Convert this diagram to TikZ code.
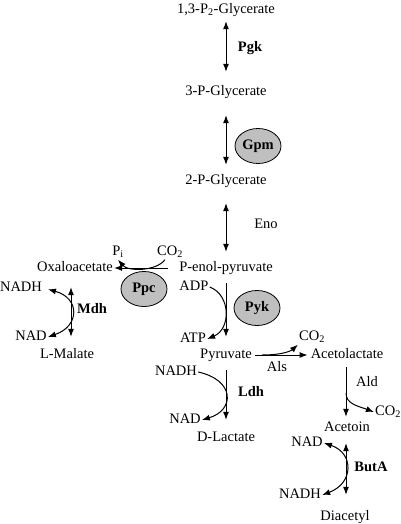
\documentclass[tikz,border=0pt]{standalone}
\usepackage{fontspec}
\setmainfont{Liberation Serif}
\usetikzlibrary{shapes.geometric,arrows.meta}
\tikzset{
  met/.style = {inner sep=1pt, text height=10pt, text depth=3pt},
  lab/.style = {met, font=\fontsize{14.5}{17}\selectfont\bfseries},
  enz/.style = {draw=black, fill=gray!50, thick, ellipse, minimum height=35pt, minimum width=46pt, inner sep=0pt, font=\fontsize{14.5}{17}\selectfont\bfseries},
  arrow/.style = {line width=1pt, -{Latex[length=8pt,width=6pt]}},
  dbl/.style = {line width=1pt, {Latex[length=8pt,width=6pt]}-{Latex[length=8pt,width=6pt]}}
}

\begin{document}
\begin{tikzpicture}[x=1pt, y=-1pt, font=\fontsize{14.5}{17}\selectfont]
            \useasboundingbox (0,0) rectangle (400,524);
            \node[met] (g13) at (226,10) {1,3-P\textsubscript{2}-Glycerate};
            \node[met] (g3) at (226,92) {3-P-Glycerate};
            \node[met] (g2) at (226,181) {2-P-Glycerate};
            \node[met] (pep) at (226,268) {P-enol-pyruvate};
            \node[met] (pyr) at (226,355) {Pyruvate};
            \node[met] (lac) at (226,438) {D-Lactate};
            \node[met] (oaa) at (75,268) {Oxaloacetate};
            \node[met] (mal) at (67,355) {L-Malate};
            \node[met] (alac) at (347,355) {Acetolactate};
            \node[met] (acn) at (347,428) {Acetoin};
            \node[met] (dia) at (345,517) {Diacetyl};

            \node[met] (pi) at (118,252) {P\textsubscript{i}};
            \node[met] (co2a) at (170,252) {CO\textsubscript{2}};
            \node[met] (nadh1) at (21,288) {NADH};
            \node[met] (nad1) at (31,337) {NAD};
            \node[met] (adp) at (194,287) {ADP};
            \node[met] (atp) at (193,339) {ATP};
            \node[met] (nadh2) at (176,372) {NADH};
            \node[met] (nad2) at (185,420) {NAD};
            \node[met] (co2b) at (312,337) {CO\textsubscript{2}};
            \node[met] (co2c) at (388,412) {CO\textsubscript{2}};
            \node[met] (nad3) at (307,443) {NAD};
            \node[met] (nadh3) at (300,495) {NADH};

            \node[lab] (pgk) at (250,48) {Pgk};
            \node[enz] (gpm) at (258,146) {Gpm};
            \node[met] (eno) at (266,225) {Eno};
            \node[enz] (ppc) at (144,289) {Ppc};
            \node[enz] (pyk) at (257,308) {Pyk};
            \node[lab] (mdh) at (92,310) {Mdh};
            \node[lab] (ldh) at (251,393) {Ldh};
            \node[met] (als) at (277,368) {Als};
            \node[met] (ald) at (367,383) {Ald};
            \node[lab] (buta) at (371,468) {ButA};

            \coordinate (alsfork) at (262,355);
            \coordinate (aldfork) at (346,393);

            \draw[dbl, shorten <=3.5pt, shorten >=12.5pt] (g13) -- (g3);
            \draw[dbl, shorten <=15.5pt, shorten >=8.5pt] (g3) -- (g2);
            \draw[dbl, shorten <=14.5pt, shorten >=8.5pt] (g2) -- (pep);
            \draw[arrow, shorten <=7.5pt, shorten >=10.5pt] (pep) -- (pyr);
            \draw[arrow, shorten <=7.5pt, shorten >=10.5pt] (pyr) -- (lac);
            \draw[arrow, shorten <=10pt] (pep.west) -- (oaa.east);
            \draw[dbl, shorten <=11.5pt, shorten >=10.5pt] ([xshift=-4pt]oaa.south) -- ([xshift=4pt]mal.north);
            \draw[arrow, shorten <=2pt, shorten >=2pt] (pyr.east) -- (alac.west);
            \draw[arrow, shorten <=4.5pt, shorten >=3.5pt] ([xshift=-1pt]alac.south) -- ([xshift=-1pt]acn.north);
            \draw[dbl, shorten <=7.5pt, shorten >=14.5pt] ([xshift=-1pt]acn.south) -- ([xshift=1pt]dia.north);

            \draw[arrow] ([xshift=-5pt]co2a.south) .. controls (156,271.5) and (128,271.5) .. (pi.south);
            \draw[arrow] (adp.east) .. controls (231,295) and (231,329) .. (atp.east);
            \draw[arrow] (nadh2.east) .. controls (235,380) and (235,410) .. (nad2.east);
            \draw[dbl, shorten <=5pt] (nadh1.east) .. controls (80,298) and (80,326) .. (nad1.east);
            \draw[dbl] (nad3.east) .. controls (354,453) and (354,483) .. (nadh3.east);
            \draw[arrow] (alsfork) .. controls (285,355) and (292,350) .. (co2b.south west);
            \draw[arrow] (aldfork) .. controls (346,404) and (358,406) .. (co2c.west);
        \end{tikzpicture}
\end{document}
